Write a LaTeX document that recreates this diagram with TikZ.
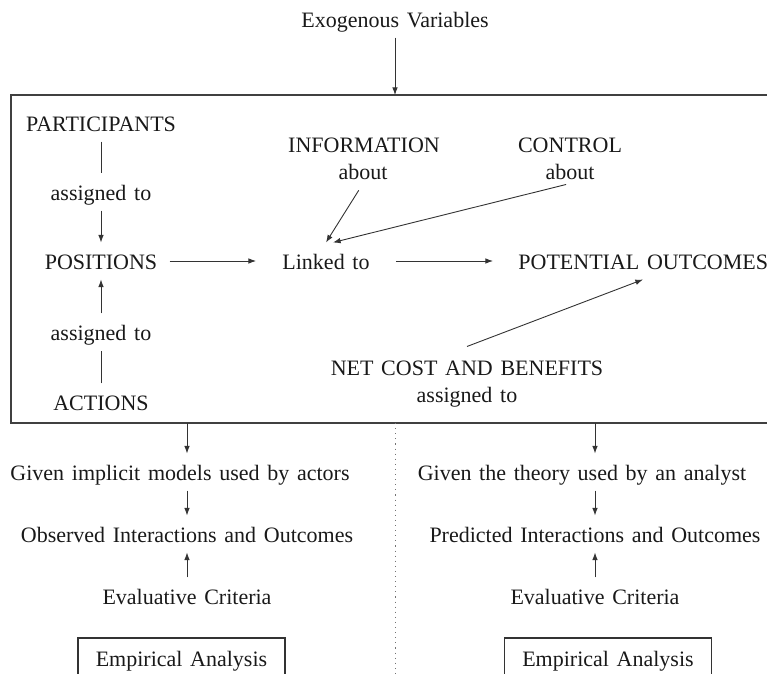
\documentclass[tikz,border=0pt]{standalone}
\usepackage{fontspec}
\setmainfont{Liberation Serif}[WordSpace=1.4]
\usetikzlibrary{arrows.meta}
\begin{document}
\begin{tikzpicture}[x=0.5pt,y=-0.5pt,
  txt/.style={font=\fontsize{11}{13}\selectfont, text=black!90},
  lbl/.style={txt, inner xsep=6pt, inner ysep=4pt, text height=9.2pt, text depth=0.92pt},
  tightlbl/.style={lbl, inner ysep=1pt},
  arr/.style={-{Latex[length=3.8pt,width=2.8pt]}, line width=0.45pt, draw=black!80},
  plain/.style={line width=0.45pt, draw=black!80},
  anbox/.style={txt, draw=black!80, line width=0.55pt, minimum width=103.5pt,
                minimum height=20pt, inner sep=0pt, text height=9.2pt, text depth=0.92pt}]
\clip (0,0) rectangle (767,674);

% outer frame of the action situation, open to the right
\coordinate (ftr) at (767,95);
\coordinate (ftl) at (11,95);
\coordinate (fbl) at (11,423);
\coordinate (fbr) at (767,423);
\coordinate (ftop) at (395.5,95);
\coordinate (fbot) at (395.5,423);
\draw[draw=black!75, line width=0.9pt] (ftr) -- (ftl) -- (fbl) -- (fbr);

\node[lbl] (exo) at (395,19) {Exogenous Variables};

% left column
\node[lbl] (part) at (101,123) {PARTICIPANTS};
\node[lbl] (asg1) at (101,192) {assigned to};
\node[lbl] (pos)  at (101,261) {POSITIONS};
\node[lbl] (asg2) at (101,332) {assigned to};
\node[lbl] (act)  at (101,402) {ACTIONS};

% middle and right
\node[tightlbl] (info)   at (364,144) {INFORMATION};
\node[tightlbl] (infoab) at (363,171) {about};
\node[tightlbl] (ctrl)   at (570,144) {CONTROL};
\node[tightlbl] (ctrlab) at (570,171) {about};
\node[lbl] (link)   at (326,261) {Linked to};
\node[lbl, anchor=west] (pot) at (506,261) {POTENTIAL OUTCOMES};
\node[tightlbl] (net)    at (467,367) {NET COST AND BENEFITS};
\node[tightlbl] (netab)  at (467,394) {assigned to};

% connectors inside the frame
\draw[arr] (exo.south) -- (exo.south |- ftop);
\draw[plain] (part) -- (asg1);
\draw[arr] (asg1) -- (pos);
\draw[arr] (asg2) -- (pos);
\draw[plain] (act) -- (asg2);
\draw[arr, shorten >=7pt] (pos) -- (link);
\draw[arr, shorten <=7pt, shorten >=6.5pt] (link) -- (pot);
\draw[arr, shorten <=4pt] (infoab.south) -- (link.north);
\draw[arr, shorten <=2pt] (ctrlab.south) -- ([xshift=3.5pt]link.north);
\draw[arr] ([yshift=4pt]net.north) -- ([xshift=68.5pt]pot.south west);

% lower left: empirical branch
\node[lbl] (giv1) at (180,472) {Given implicit models used by actors};
\node[lbl] (obs)  at (187,534) {Observed Interactions and Outcomes};
\node[lbl] (eva1) at (187,596) {Evaluative Criteria};
\node[anbox] (emp1) at (181.5,658) {Empirical Analysis};

% lower right: theoretical branch
\node[lbl] (giv2) at (582,472) {Given the theory used by an analyst};
\node[lbl] (pred) at (595,534) {Predicted Interactions and Outcomes};
\node[lbl] (eva2) at (595,596) {Evaluative Criteria};
\node[anbox] (emp2) at (608,658) {Empirical Analysis};

\draw[arr] (fbot -| obs) -- (giv1.north -| obs);
\draw[arr] (giv1.south -| obs) -- (obs);
\draw[arr] (eva1) -- (obs);
\draw[arr] (fbot -| pred) -- (giv2.north -| pred);
\draw[arr] (giv2.south -| pred) -- (pred);
\draw[arr] (eva2) -- (pred);

% divider between the two branches
\draw[dotted, draw=black!55, line width=0.55pt] (fbot) -- ++(0,260);
\end{tikzpicture}
\end{document}
